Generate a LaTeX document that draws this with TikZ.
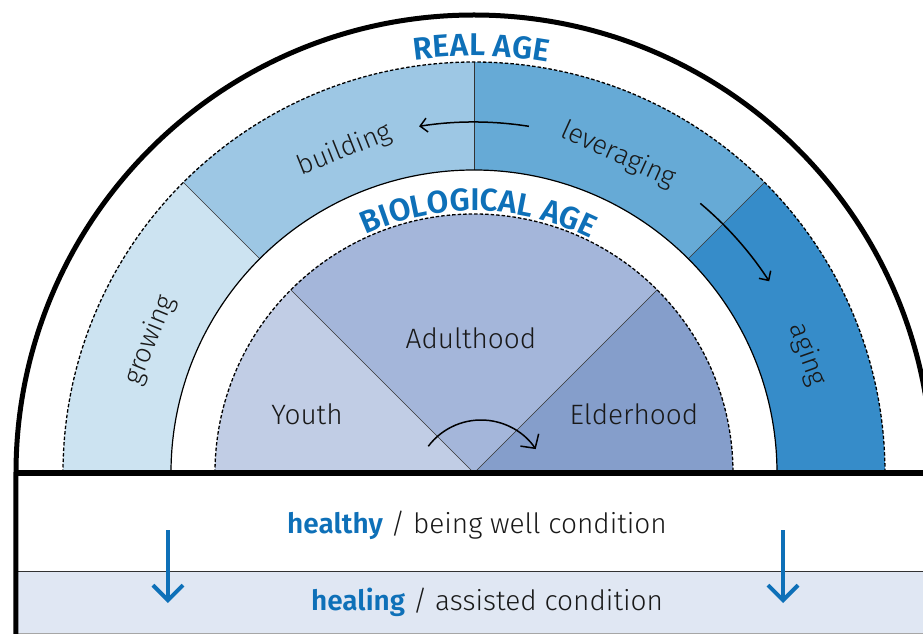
\documentclass[tikz,border=0pt]{standalone}
\usepackage{fontspec}
\setmainfont{Fira Sans}[UprightFont={* Light}, BoldFont={* SemiBold}]
\usetikzlibrary{arrows.meta,decorations.text,positioning}

\definecolor{growcol}{HTML}{CCE3F1}
\definecolor{buildcol}{HTML}{9DC7E4}
\definecolor{leveragecol}{HTML}{66AAD6}
\definecolor{agingcol}{HTML}{368CC9}
\definecolor{youthcol}{HTML}{C1CDE5}
\definecolor{adultcol}{HTML}{A4B6DA}
\definecolor{eldercol}{HTML}{859ECB}
\definecolor{healcol}{HTML}{E0E7F3}
\definecolor{titleblue}{HTML}{0E70B8}

\newcommand{\titlefont}{\fontsize{31.5}{33}\selectfont\bfseries\color{titleblue}}

\tikzset{
>={Straight Barb[length=7pt,width=14pt]},
  divider/.style={draw=black!80, line width=0.6pt},
  dashed edge/.style={draw=black, line width=1.3pt, dash pattern=on 3.5pt off 2pt},
  stage/.style={font=\fontsize{28}{30}\selectfont, text=black!90},
  phase/.style={font=\fontsize{27}{30}\selectfont, text=black!90},
  condition/.style={font=\fontsize{28}{30}\selectfont, text=black!90},
  turn/.style={line width=1.5pt, ->},
  drop/.style={line width=4pt, titleblue,
    -{Straight Barb[length=15pt,width=30pt,line width=4pt]}},
}

\begin{document}
\begin{tikzpicture}[x=1pt, y=1pt]
    \clip (-474,-161) rectangle (449,473);
    \fill[white] (-474,-161) rectangle (449,473);

    %real age ring
    \foreach \s/\e/\col in {180/135/growcol,135/90/buildcol,90/45/leveragecol,45/0/agingcol}
        \fill[\col] (\s:303) -- (\s:411) arc[start angle=\s, end angle=\e, radius=411]
            -- (\e:303) arc[start angle=\e, end angle=\s, radius=303] -- cycle;
    \foreach \a in {45,90,135}
        \draw[divider] (\a:303) -- (\a:411);
    \draw[dashed edge] (180:411) arc[start angle=180, end angle=0, radius=411];
    \draw[line width=1.2pt] (180:303) arc[start angle=180, end angle=0, radius=303];

    %biological age
    \foreach \s/\e/\col in {180/135/youthcol,135/45/adultcol,45/0/eldercol}
        \fill[\col] (0,0) -- (\s:259) arc[start angle=\s, end angle=\e, radius=259] -- cycle;
    \foreach \a in {45,135}
        \draw[divider] (0,0) -- (\a:259);
    \draw[dashed edge] (180:259) arc[start angle=180, end angle=0, radius=259];

    %conditions
    \fill[healcol] (-458,-98) rectangle (458,-165);
    \draw[line width=1pt, black!80] (-458,-98) -- (458,-98);
    \draw[line width=1pt, black!35] (-458,-160) -- (458,-160);

    %frame
    \draw[line width=5pt] (-458,-170) -- (180:458) arc[start angle=180, end angle=0, radius=458]
        -- (458,-170);
    \draw[line width=5pt] (-458,0) -- (458,0);

    %titles
    \path[decorate, decoration={text along path, text align=center,
        text={|\titlefont|REAL AGE}}]
        (130:417) arc[start angle=130, end angle=48, radius=417];
    \path[decorate, decoration={text along path, text align=center,
        text={|\titlefont|BIOLOGICAL AGE}}]
        (140:262) arc[start angle=140, end angle=38, radius=262];

    %phases
    \node[phase, rotate=21.8] (building) at (111.8:348) {building};
    \node[phase, rotate=-24.4] (leveraging) at (65.6:349) {leveraging};
    \node[phase, rotate=67.7] (growing) at (157.7:350) {growing};
    \node[phase, rotate=-70.5] (aging) at (19.5:354) {aging};

    \coordinate (lev from) at (81:351);
    \coordinate (age from) at (50:352);
    \draw[turn] (lev from) arc[start angle=81, end angle=99, radius=351];
    \draw[turn] (age from) arc[start angle=50, end angle=33, radius=352];

    %stages
    \node[stage] (youth) at (-167,59) {Youth};
    \node[stage] (adult) at (-3,135) {Adulthood};
    \node[stage] (elder) at (160,59) {Elderhood};

    \coordinate (pivot) at (7,-13);
    \draw[turn, {}-{Straight Barb[length=10pt,width=22pt]}]
        ([shift={(143:66)}]pivot) arc[start angle=143, end angle=34, radius=66];

    %condition rows
    \node[condition] (healthy) at (3,-52)
        {\textcolor{titleblue}{\bfseries healthy} / being well condition};
    \node[condition] (healing) at (13,-129)
        {\textcolor{titleblue}{\bfseries healing} / assisted condition};

    \coordinate (left top) at (-306,-57);
    \coordinate (left tip) at (-306,-130);
    \coordinate (right top) at (309,-57);
    \coordinate (right tip) at (309,-130);
    \draw[drop] (left top) -- (left tip);
    \draw[drop] (right top) -- (right tip);

\end{tikzpicture}
\end{document}
